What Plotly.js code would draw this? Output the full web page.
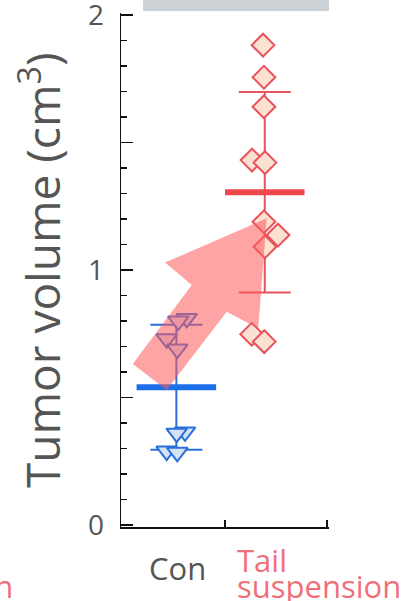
<!DOCTYPE html>
<html>
<head>
<meta charset="utf-8">
<script src="https://cdn.plot.ly/plotly-3.0.1.min.js"></script>
<style>html,body{margin:0;padding:0;background:#fff;}#chart{width:405px;height:601px;}</style>
</head>
<body>
<div id="chart"></div>
<script>
// ---- data ----
const categories = ["Con", "Tail suspension"];
const conX = [0.625, 0.542, 0.428, 0.532, 0.608, 0.526, 0.428, 0.532];
const conY = [0.81, 0.80, 0.73, 0.69, 0.365, 0.36, 0.29, 0.285];
const tailX = [1.373, 1.382, 1.382, 1.265, 1.392, 1.382, 1.520, 1.392, 1.262, 1.385];
const tailY = [1.882, 1.756, 1.640, 1.431, 1.421, 1.189, 1.137, 1.091, 0.748, 0.719];
const groupCenter = [0.523, 1.39];
const groupMean = [0.540, 1.305];
const groupSD = [0.245, 0.393];
const yTickVals = [0, 0.5, 1, 1.5, 2];
const yTickText = ["0", " ", "1", " ", "2"];

// ---- styles ----
const font = "Open Sans, Noto Sans, sans-serif";
const grey = "#555555";
const conLine = "#2a6fdb", conFill = "#d5e3f5", conMean = "#1a6ee8";
const tailLine = "#e8525a", tailFill = "#fbe1d2", tailMean = "#f0474f";
const meanHalf = 0.39;

const traces = [];
const colors = [[conLine, conMean], [tailLine, tailMean]];
for (let i = 0; i < 2; i++) {
  traces.push({
    type: "scatter", mode: "markers",
    x: [groupCenter[i]], y: [groupMean[i]],
    marker: {size: 1, opacity: 0},
    error_y: {type: "data", array: [groupSD[i]], visible: true, color: colors[i][0], thickness: 2, width: 26},
    hoverinfo: "skip", showlegend: false
  });
}
traces.push({
  type: "scatter", mode: "markers", x: conX, y: conY, name: categories[0],
  marker: {symbol: "triangle-down", size: 18, color: conFill, line: {color: conLine, width: 2}},
  showlegend: false
});
traces.push({
  type: "scatter", mode: "markers", x: tailX, y: tailY, name: categories[1],
  marker: {symbol: "diamond", size: 17.5, color: tailFill, line: {color: tailLine, width: 2}},
  showlegend: false
});
for (let i = 0; i < 2; i++) {
  traces.push({
    type: "scatter", mode: "lines",
    x: [groupCenter[i] - meanHalf, groupCenter[i] + meanHalf],
    y: [groupMean[i], groupMean[i]],
    line: {color: colors[i][1], width: 6},
    hoverinfo: "skip", showlegend: false
  });
}

const layout = {
  width: 405, height: 601,
  margin: {l: 121, r: 76, t: 13, b: 74},
  paper_bgcolor: "#ffffff", plot_bgcolor: "#ffffff",
  showlegend: false,
  font: {family: font, color: grey},
  xaxis: {
    range: [-0.02, 2.02], showgrid: false, zeroline: false,
    showline: true, linecolor: "#111", linewidth: 1.5,
    ticks: "inside", ticklen: 7, tickwidth: 1.5, tickcolor: "#111",
    tickvals: [1, 2], showticklabels: false
  },
  yaxis: {
    range: [-0.008, 2.008], showgrid: false, zeroline: false,
    showline: true, linecolor: "#111", linewidth: 1.5,
    ticks: "inside", ticklen: 12, tickwidth: 1.5, tickcolor: "#111",
    tickvals: yTickVals, ticktext: yTickText,
    tickfont: {family: font, size: 28, color: grey},
    ticklabelstandoff: 10, ticklabeloverflow: "allow",
    minor: {ticks: "inside", ticklen: 6, tickwidth: 1.5, tickcolor: "#111", dtick: 0.1}
  },
  annotations: [
    {xref: "paper", yref: "paper", x: -0.389, y: 0.5, xanchor: "center", yanchor: "middle",
     textangle: -90, showarrow: false, text: "Tumor volume (cm<sup>3</sup>)",
     font: {family: font, size: 46, color: grey}},
    {xref: "x", yref: "paper", x: groupCenter[0] + 0.01, y: -0.08, xanchor: "center", yanchor: "middle",
     showarrow: false, text: categories[0], font: {family: font, size: 31, color: grey}},
    {xref: "x", yref: "paper", x: 1.1, y: -0.064, xanchor: "left", yanchor: "middle",
     showarrow: false, text: "Tail", font: {family: font, size: 31, color: "#f07079"}},
    {xref: "x", yref: "paper", x: 1.1, y: -0.115, xanchor: "left", yanchor: "middle",
     showarrow: false, text: "suspension", font: {family: font, size: 31, color: "#f07079"}},
    {xref: "paper", yref: "paper", x: -0.51, y: -0.115, xanchor: "right", yanchor: "middle",
     showarrow: false, text: "suspension", font: {family: font, size: 31, color: "#f07079"}}
  ],
  shapes: [
    {type: "rect", xref: "paper", yref: "paper", x0: 0.106, x1: 1.0, y0: 1.004, y1: 1.04,
     fillcolor: "#cbd1d5", line: {width: 0}, layer: "above"},
    {type: "path", xref: "x", yref: "y", layer: "above",
     path: "M1.409,1.203 L0.412,1.029 L0.674,0.941 L0.095,0.631 L0.428,0.529 L1.017,0.836 L1.326,0.771 Z",
     fillcolor: "rgba(255,90,90,0.55)", line: {width: 0}}
  ]
};

Plotly.newPlot("chart", traces, layout, {displayModeBar: false, staticPlot: true});
</script>
</body>
</html>
